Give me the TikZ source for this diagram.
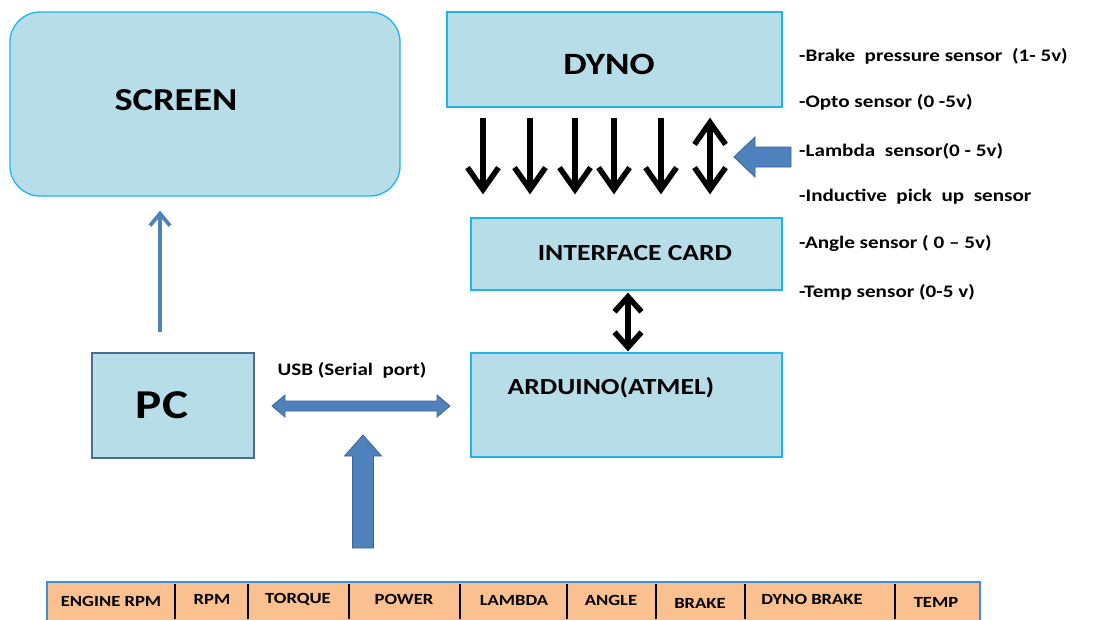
\documentclass[tikz,border=0pt]{standalone}
\usepackage{fontspec}
\setmainfont[FakeStretch=1.2]{Carlito}
\usetikzlibrary{arrows.meta,calc}
\definecolor{boxfill}{HTML}{B7DDE8}
\definecolor{boxedge}{HTML}{1FB4EC}
\definecolor{pcedge}{HTML}{4A6C8F}
\definecolor{arrowblue}{HTML}{4F81BD}
\definecolor{arrowdark}{HTML}{3A6496}
\definecolor{peach}{HTML}{FAC090}
\definecolor{baredge}{HTML}{3C8FD8}
\begin{document}
\begin{tikzpicture}[x=1pt,y=-1pt,
  box/.style={draw=boxedge, fill=boxfill, line width=1.3pt, inner sep=0pt},
  lbl/.style={inner sep=0pt, text=black},
  sensor/.style={font=\bfseries\fontsize{17.6}{20}\selectfont, anchor=west, inner sep=0pt},
  bartxt/.style={font=\bfseries\fontsize{15.5}{18}\selectfont, inner sep=0pt},
  barb/.tip={Straight Barb[length=22pt,width=31pt,line width=5.5pt]},
  smallbarb/.tip={Straight Barb[length=15pt,width=27pt,line width=5.5pt]},
  flow/.style={line width=5.5pt, -barb},
  flowboth/.style={line width=5.5pt, barb-barb},
  linkboth/.style={line width=5.5pt, smallbarb-smallbarb},
  thinblue/.style={draw=arrowblue, line width=3.8pt, -{Straight Barb[length=12pt,width=20pt,line width=3.8pt]}},
  blockarrow/.style={fill=arrowblue, draw=arrowdark, line width=0.8pt, line join=miter},
  divider/.style={line width=2.5pt, draw=black}
]
\useasboundingbox (0,0) rectangle (1095,619);

% boxes
\node[box, rounded corners=30pt, minimum width=390pt, minimum height=184pt] (screen) at (205,104) {};
\node[lbl, font=\bfseries\fontsize{32}{36}\selectfont] (screentxt) at (176,100) {SCREEN};

\node[box, minimum width=335pt, minimum height=95pt] (dyno) at (614.5,59.5) {};
\node[lbl, font=\bfseries\fontsize{31}{34}\selectfont] (dynotxt) at (609,64) {DYNO};

\node[box, minimum width=311pt, minimum height=72pt] (ic) at (626.5,254) {};
\node[lbl, font=\bfseries\fontsize{23}{26}\selectfont] (ictxt) at (635,253) {INTERFACE CARD};

\node[box, minimum width=311pt, minimum height=104pt] (ard) at (626.5,405) {};
\node[lbl, font=\bfseries\fontsize{23}{26}\selectfont] (ardtxt) at (611,388) {ARDUINO(ATMEL)};

\node[box, draw=pcedge, minimum width=162pt, minimum height=105pt] (pc) at (173,405.5) {};
\node[lbl, font=\bfseries\fontsize{41}{44}\selectfont] (pctxt) at (162,405) {PC};

\node[lbl, font=\bfseries\fontsize{17.5}{20}\selectfont] (usb) at (352,370) {USB (Serial\ \ port)};

% sensor list
\node[sensor] (s1) at (799,56) {-Brake\ \ pressure sensor\ \ (1- 5v)};
\node[sensor] (s2) at (799,102) {-Opto sensor (0 -5v)};
\node[sensor] (s3) at (799,151) {-Lambda\ \ sensor(0 - 5v)};
\node[sensor] (s4) at (799,197) {-Inductive\ \ pick\ \ up\ \ sensor};
\node[sensor] (s5) at (799,243) {-Angle sensor ( 0 -- 5v)};
\node[sensor] (s6) at (799,292) {-Temp sensor (0-5 v)};

% black arrows dyno -> interface
\foreach \i/\x in {1/483,2/530,3/575,4/614,5/661,6/710} {
  \coordinate (a\i) at (\x,0);
}
\foreach \i in {1,...,5} {
  \draw[flow, shorten <=10pt, shorten >=23pt] (a\i |- dyno.south) -- (a\i |- ic.north);
}
\draw[flowboth, shorten <=10pt, shorten >=23pt] (a6 |- dyno.south) -- (a6 |- ic.north);

% interface <-> arduino
\coordinate (d) at (628,0);
\draw[linkboth, shorten <=2pt, shorten >=1pt] (d |- ic.south) -- (d |- ard.north);

% blue arrow pointing to sensors double arrow
\coordinate (lt) at (734,157);
\draw[blockarrow] (lt) -- ++(21,-20) -- ++(0,10) -- ++(36,0) -- ++(0,20) -- ++(-36,0) -- ++(0,10) -- cycle;

% PC -> screen
\coordinate (c160) at (160,0);
\draw[thinblue, shorten <=20pt, shorten >=14pt] (c160 |- pc.north) -- (c160 |- screen.south);

% USB double arrow
\coordinate (ul) at (272,406);
\draw[blockarrow] (ul) -- ++(13,-11) -- ++(0,6) -- ++(152,0) -- ++(0,-6) -- ++(13,11) -- ++(-13,11) -- ++(0,-6) -- ++(-152,0) -- ++(0,6) -- cycle;

% bottom bar
\node[draw=baredge, fill=peach, line width=1.3pt, minimum width=933pt, minimum height=40pt, inner sep=0pt] (bar) at (513.5,602) {};
\foreach \x in {175,248,349,460,567,656,745,895} {
  \draw[divider] (\x,584) -- (\x,619);
}
\node[bartxt] (b1) at (111,601) {ENGINE RPM};
\node[bartxt] (b2) at (212,599) {RPM};
\node[bartxt] (b3) at (298,599) {TORQUE};
\node[bartxt] (b4) at (404,599) {POWER};
\node[bartxt] (b5) at (514,600) {LAMBDA};
\node[bartxt] (b6) at (611,600) {ANGLE};
\node[bartxt] (b7) at (700,603) {BRAKE};
\node[bartxt] (b8) at (812,599) {DYNO BRAKE};
\node[bartxt] (b9) at (936,602) {TEMP};

% bar -> usb arrow
\coordinate (ub) at (363,548);
\draw[blockarrow] (ub) ++(-10.5,0) -- ++(0,-92) -- ++(-8,0) -- ++(18.5,-21) -- ++(18.5,21) -- ++(-8,0) -- ++(0,92) -- cycle;
\end{tikzpicture}
\end{document}
